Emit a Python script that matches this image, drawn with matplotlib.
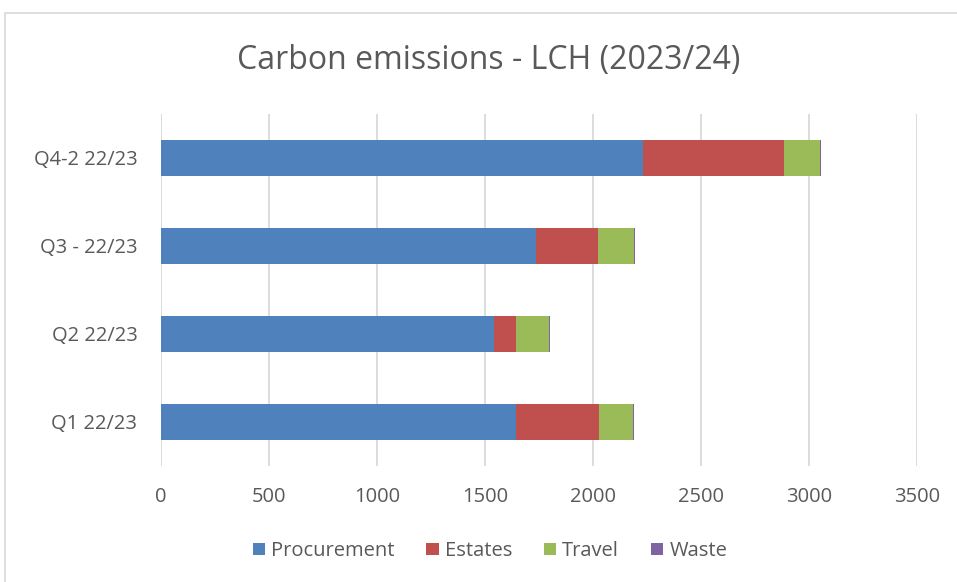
import numpy as np
import matplotlib.pyplot as plt
from matplotlib.patches import Rectangle

# --- data ---
quarters = ["Q1 22/23", "Q2 22/23", "Q3 - 22/23", "Q4-2 22/23"]
procurement = [1642, 1540, 1736, 2230]
estates = [385, 102, 285, 653]
travel = [157, 155, 167, 166]
waste = [4, 4, 5, 6]

series = ["Procurement", "Estates", "Travel", "Waste"]
colours = ["#4F81BD", "#C0504D", "#9BBB59", "#8064A2"]
text_col = "#595959"

plt.rcParams['font.family'] = ['Open Sans', 'DejaVu Sans']

fig = plt.figure(figsize=(9.57, 5.82), dpi=100)
W, H = 957, 582
# plot area in pixels: left 161, right 917, top 114, bottom 466
ax = fig.add_axes([161 / W, 1 - 466 / H, (917 - 161) / W, (466 - 114) / H])

# chart border
fig.add_artist(Rectangle((5 / W, -0.01), 1.0, 1 - 13 / H + 0.01, transform=fig.transFigure,
                         fill=False, edgecolor="#D9D9D9", linewidth=1.2))

y = np.arange(len(quarters))
left = np.zeros(len(quarters))
for name, vals, c in zip(series, [procurement, estates, travel, waste], colours):
    ax.barh(y, vals, left=left, height=0.4, color=c, label=name, zorder=3)
    left += np.array(vals)

ax.set_xlim(0, 3500)
ax.set_ylim(-0.5, len(quarters) - 0.5)
ax.set_xticks(np.arange(0, 3501, 500))
ax.set_yticks(y)
ax.set_yticklabels(quarters)
ax.grid(axis='x', color="#D9D9D9", linewidth=1.3, zorder=0)
for s in ax.spines.values():
    s.set_visible(False)
ax.tick_params(axis='both', length=0, colors=text_col, labelsize=14.5)
ax.tick_params(axis='x', pad=15)
ax.tick_params(axis='y', pad=17)

fig.text(489 / W, 1 - 60 / H, "Carbon emissions - LCH (2023/24)", ha='center', va='center',
         fontsize=23, color=text_col)

fig.legend(loc='center', bbox_to_anchor=(490 / W, 1 - 551 / H), ncol=4, frameon=False,
           fontsize=14.5, handlelength=0.6, handleheight=0.6, handletextpad=0.3,
           columnspacing=1.6, labelcolor=text_col)

fig.savefig("out.png", dpi=100)
